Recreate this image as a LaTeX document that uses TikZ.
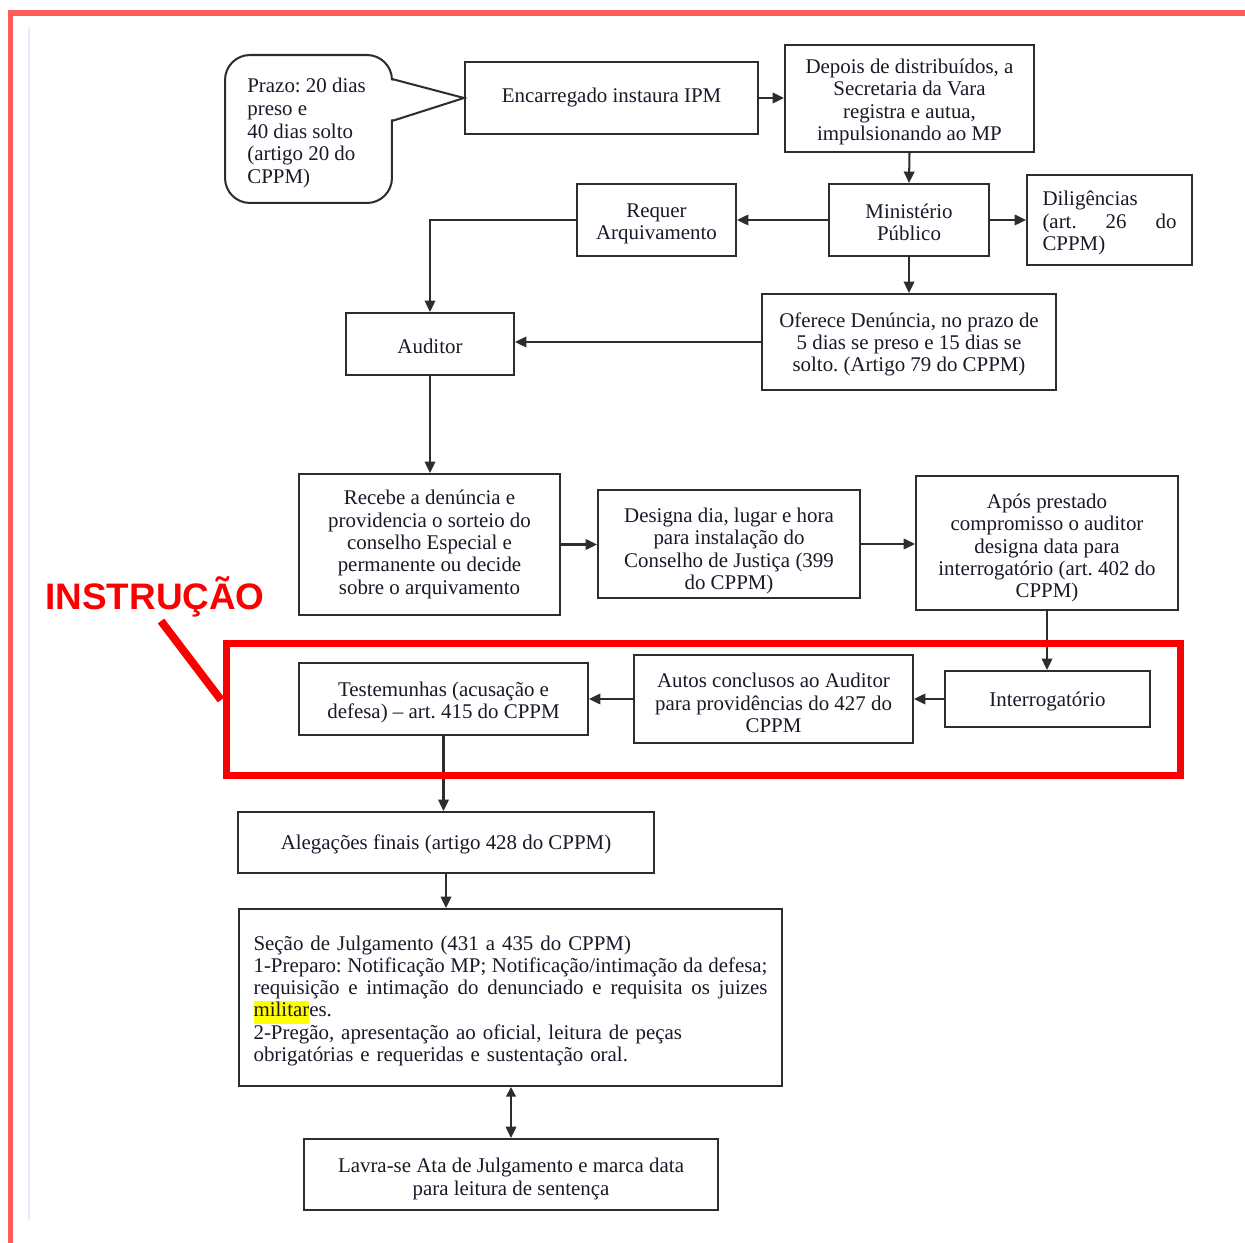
\documentclass[tikz,border=0pt]{standalone}
\usepackage{fontspec}
\setmainfont{Liberation Serif}
\newfontfamily\instrfont{Liberation Sans}
\usetikzlibrary{arrows.meta}
\definecolor{frameRed}{RGB}{255,92,92}
\definecolor{boxRed}{RGB}{250,0,0}
\definecolor{lineGray}{RGB}{45,45,45}
\definecolor{txt}{RGB}{25,25,40}
\definecolor{hl}{RGB}{255,255,0}
\definecolor{faint}{RGB}{232,236,250}
\newcommand\jline[2]{\makebox[#1][s]{\spaceskip=0.25em plus 3em minus 0.12em\relax #2}}
\newcommand\hr[1]{\rule{0pt}{#1pt}}
\begin{document}
\begin{tikzpicture}[x=0.02cm,y=-0.02cm,
  every node/.style={font=\fontsize{11.9}{12.7}\selectfont\frenchspacing, text=txt},
  box/.style={draw=lineGray, line width=1.15pt, fill=white, align=center, inner sep=2pt},
  arr/.style={draw=lineGray, line width=1.15pt, -{Triangle[length=6.5pt,width=6pt]}},
  arrboth/.style={draw=lineGray, line width=1.15pt, {Triangle[length=5.5pt,width=5.5pt]}-{Triangle[length=6.5pt,width=6pt]}},
  callout/.style={draw=lineGray, line width=1.15pt, rounded corners=0.5cm, inner sep=0pt},
  instrline/.style={draw=boxRed, line width=0.14cm},
  instrtext/.style={font=\instrfont\bfseries\fontsize{21}{24}\selectfont, text=boxRed}
]
\useasboundingbox (0,0) rectangle (1245,1243);
\fill[white] (0,0) rectangle (1245,1243);
% outer frame
\draw[frameRed, line width=0.11cm] (10.5,1243) -- (10.5,13) -- (1245,13);
\draw[faint, line width=0.04cm] (29,27) -- (29,1220);

% callout
\node[callout, minimum width=3.34cm, minimum height=2.96cm] (prazo) at (308.5,129) {};
\node[anchor=west, align=left, inner sep=0pt, font=\fontsize{11.9}{12.9}\selectfont\frenchspacing] (prazotxt) at (247,133)
  {Prazo: 20 dias\\preso e\\40 dias solto\\(artigo 20 do\\CPPM)};

% boxes
\node[box, minimum width=5.86cm, minimum height=1.44cm] (enc) at (611.5,98) {Encarregado instaura IPM};
\node[box, minimum width=4.98cm, minimum height=2.14cm] (dep) at (909.5,98.5)
  {\hr{12.3}Depois de distribuídos, a\\Secretaria da Vara\\registra e autua,\\impulsionando ao MP};
\node[box, minimum width=3.2cm, minimum height=1.44cm] (mp) at (909,220) {\hr{10.8}Ministério\\Público};
\node[box, minimum width=3.3cm, minimum height=1.8cm, text width=2.68cm, align=left] (dil) at (1109.5,220)
  {\hr{12}Diligências\\\makebox[2.68cm][l]{(art.\hfill 26\hfill do}\\CPPM)};
\node[box, minimum width=3.18cm, minimum height=1.44cm] (req) at (656.5,220) {\hr{12.3}Requer\\Arquivamento};
\node[box, minimum width=3.36cm, minimum height=1.24cm] (aud) at (430,344) {\hr{10.4}Auditor};
\node[box, minimum width=5.88cm, minimum height=1.92cm] (ofe) at (909,342)
  {\hr{11.1}Oferece Denúncia, no prazo de\\5 dias se preso e 15 dias se\\solto. (Artigo 79 do CPPM)};
\node[box, minimum width=5.22cm, minimum height=2.82cm] (rec) at (429.5,544.5)
  {Recebe a denúncia e\\providencia o sorteio do\\conselho Especial e\\permanente ou decide\\sobre o arquivamento};
\node[box, minimum width=5.24cm, minimum height=2.16cm] (des) at (729,544)
  {\hr{16.3}Designa dia, lugar e hora\\para instalação do\\Conselho de Justiça (399\\do CPPM)};
\node[box, minimum width=5.24cm, minimum height=2.68cm] (apos) at (1047,543)
  {\hr{14}Após prestado\\compromisso o auditor\\designa data para\\interrogatório (art. 402 do\\CPPM)};
\node[box, minimum width=4.1cm, minimum height=1.12cm] (intg) at (1047.5,699) {\hr{11.5}Interrogatório};
\node[box, minimum width=5.58cm, minimum height=1.76cm] (aut) at (773.5,699)
  {\hr{12.8}Autos conclusos ao Auditor\\para providências do 427 do\\CPPM};
\node[box, minimum width=5.78cm, minimum height=1.44cm] (tes) at (443.5,699)
  {\hr{12.3}Testemunhas (acusação e\\defesa) – art. 415 do CPPM};
\node[box, minimum width=8.32cm, minimum height=1.22cm] (ale) at (446,842.5)
  {\hr{10.4}Alegações finais (artigo 428 do CPPM)};
\node[box, minimum width=10.86cm, minimum height=3.54cm, text width=10.28cm, align=left] (sec) at (510.5,997.5)
  {\hr{12}Seção de Julgamento (431 a 435 do CPPM)\\
   \jline{10.28cm}{1-Preparo: Notificação MP; Notificação/intimação da defesa;}\\
   \jline{10.28cm}{requisição e intimação do denunciado e requisita os juizes}\\
   {\setlength{\fboxsep}{0pt}\colorbox{hl}{\strut militar}}es.\\
   2-Pregão, apresentação ao oficial, leitura de peças\\
   obrigatórias e requeridas e sustentação oral.};
\node[box, minimum width=8.28cm, minimum height=1.42cm] (lav) at (511,1174.5)
  {\hr{13.4}Lavra-se Ata de Julgamento e marca data\\para leitura de sentença};

% callout pointer
\fill[white] (386,79) -- (enc.west) -- (386,121) -- cycle;
\draw[draw=lineGray, line width=1.15pt, line join=miter] (392,79) -- (enc.west) -- (392,121);

% connectors
\draw[arr] (enc.east) -- (enc.east -| dep.west);
\draw[arr] (dep.south) -- (mp.north);
\draw[arr] (mp.east) -- (dil.west);
\draw[arr] (mp.west) -- (req.east);
\draw[arr] (req.west) -| (aud.north);
\draw[arr] (mp.south) -- (ofe.north);
\draw[arr] (ofe.west) -- (ofe.west -| aud.east);
\draw[arr] (aud.south) -- (aud.south |- rec.north);
\draw[arr] (rec.east) -- (rec.east -| des.west);
\draw[arr] (des.east) -- (des.east -| apos.west);
\draw[arr] (apos.south) -- (apos.south |- intg.north);
\draw[arr] (intg.west) -- (intg.west -| aut.east);
\draw[arr] (aut.west) -- (aut.west -| tes.east);
\draw[arr] (tes.south) -- (tes.south |- ale.north);
\draw[arr] (ale.south) -- (ale.south |- sec.north);
\draw[arrboth] (sec.south -| lav.north) -- (lav.north);

% instruction highlight
\draw[instrline] (226.5,643.5) rectangle (1180.5,775.5);
\node[instrtext, anchor=base] (instr) at (155,609) {INSTRUÇÃO};
\coordinate (slashA) at (161,621);
\coordinate (slashB) at (221,700);
\draw[draw=boxRed, line width=0.16cm] (slashA) -- (slashB);
\end{tikzpicture}
\end{document}
